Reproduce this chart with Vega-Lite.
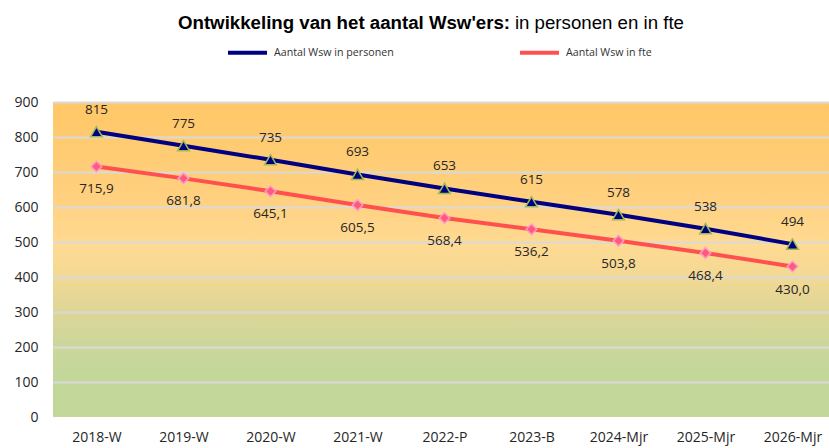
{
  "$schema": "https://vega.github.io/schema/vega-lite/v6.json",
  "width": 783,
  "height": 315,
  "autosize": {"type": "none"},
  "padding": {"left": 53, "top": 102, "right": 0, "bottom": 31},
  "background": "white",
  "title": {
    "text": "Ontwikkeling van het aantal Wsw'ers:",
    "subtitle": "\u200b\u00a0\u00a0\u00a0\u00a0\u00a0\u00a0\u00a0\u00a0\u00a0\u00a0\u00a0\u00a0\u00a0\u00a0\u00a0\u00a0\u00a0\u00a0\u00a0\u00a0\u00a0\u00a0\u00a0\u00a0\u00a0\u00a0\u00a0\u00a0\u00a0\u00a0\u00a0\u00a0\u00a0\u00a0\u00a0\u00a0\u00a0\u00a0\u00a0\u00a0\u00a0\u00a0\u00a0\u00a0\u00a0\u00a0\u00a0\u00a0\u00a0\u00a0\u00a0\u00a0\u00a0\u00a0\u00a0\u00a0\u00a0\u00a0\u00a0\u00a0\u00a0\u00a0\u00a0\u00a0\u00a0in personen en in fte",
    "anchor": "start",
    "frame": "group",
    "dx": 125,
    "offset": -2,
    "font": "Liberation Sans",
    "fontSize": 18.67,
    "fontWeight": "bold",
    "color": "#000000",
    "subtitleFont": "Liberation Sans",
    "subtitleFontSize": 18.67,
    "subtitleFontWeight": "normal",
    "subtitleColor": "#000000",
    "subtitlePadding": -18.67
  },
  "data": {
    "values": [
      {"periode": "2018-W", "reeks": "Aantal Wsw in personen", "waarde": 815},
      {"periode": "2019-W", "reeks": "Aantal Wsw in personen", "waarde": 775},
      {"periode": "2020-W", "reeks": "Aantal Wsw in personen", "waarde": 735},
      {"periode": "2021-W", "reeks": "Aantal Wsw in personen", "waarde": 693},
      {"periode": "2022-P", "reeks": "Aantal Wsw in personen", "waarde": 653},
      {"periode": "2023-B", "reeks": "Aantal Wsw in personen", "waarde": 615},
      {"periode": "2024-Mjr", "reeks": "Aantal Wsw in personen", "waarde": 578},
      {"periode": "2025-Mjr", "reeks": "Aantal Wsw in personen", "waarde": 538},
      {"periode": "2026-Mjr", "reeks": "Aantal Wsw in personen", "waarde": 494},
      {"periode": "2018-W", "reeks": "Aantal Wsw in fte", "waarde": 715.9},
      {"periode": "2019-W", "reeks": "Aantal Wsw in fte", "waarde": 681.8},
      {"periode": "2020-W", "reeks": "Aantal Wsw in fte", "waarde": 645.1},
      {"periode": "2021-W", "reeks": "Aantal Wsw in fte", "waarde": 605.5},
      {"periode": "2022-P", "reeks": "Aantal Wsw in fte", "waarde": 568.4},
      {"periode": "2023-B", "reeks": "Aantal Wsw in fte", "waarde": 536.2},
      {"periode": "2024-Mjr", "reeks": "Aantal Wsw in fte", "waarde": 503.8},
      {"periode": "2025-Mjr", "reeks": "Aantal Wsw in fte", "waarde": 468.4},
      {"periode": "2026-Mjr", "reeks": "Aantal Wsw in fte", "waarde": 430.0}
    ]
  },
  "encoding": {
    "x": {
      "field": "periode",
      "type": "ordinal",
      "sort": null,
      "title": null,
      "scale": {"padding": 0.5},
      "axis": {
        "labelAngle": 0,
        "domain": false,
        "ticks": false,
        "grid": false,
        "labelPadding": 13,
        "labelFont": "Open Sans",
        "labelFontSize": 14,
        "labelColor": "#262626"
      }
    },
    "y": {
      "field": "waarde",
      "type": "quantitative",
      "title": null,
      "scale": {"domain": [0, 900], "nice": false, "zero": true},
      "axis": {
        "values": [0, 100, 200, 300, 400, 500, 600, 700, 800, 900],
        "domain": false,
        "ticks": false,
        "labelPadding": 15,
        "labelFont": "Open Sans",
        "labelFontSize": 14,
        "labelColor": "#262626",
        "gridColor": "#D9D9D9",
        "gridWidth": 2,
        "gridOpacity": {"condition": {"test": "datum.value === 0", "value": 0}, "value": 1}
      }
    }
  },
  "layer": [
    {
      "mark": {"type": "line", "strokeWidth": 4},
      "encoding": {
        "color": {
          "field": "reeks",
          "type": "nominal",
          "scale": {
            "domain": ["Aantal Wsw in personen", "Aantal Wsw in fte"],
            "range": ["#000080", "#FF5050"]
          },
          "legend": {
            "orient": "none",
            "legendX": 173,
            "legendY": -71,
            "direction": "horizontal",
            "title": null,
            "symbolType": "stroke",
            "symbolSize": 1521,
            "symbolStrokeWidth": 4,
            "labelFont": "Open Sans",
            "labelFontSize": 10.67,
            "labelColor": "#333333",
            "labelOffset": 5,
            "columnPadding": 118,
            "labelLimit": 300
          }
        }
      }
    },
    {
      "transform": [{"filter": "datum.reeks === 'Aantal Wsw in personen'"}],
      "mark": {"type": "point", "shape": "triangle-up", "size": 140, "filled": true, "fill": "#000080", "stroke": "#9BBB59", "strokeWidth": 1.5, "opacity": 1}
    },
    {
      "transform": [{"filter": "datum.reeks === 'Aantal Wsw in fte'"}],
      "mark": {"type": "point", "shape": "diamond", "size": 110, "filled": true, "fill": "#FF5A78", "stroke": "#FF99CC", "strokeWidth": 1.5, "opacity": 1}
    },
    {
      "transform": [{"filter": "datum.reeks === 'Aantal Wsw in personen'"}],
      "mark": {"type": "text", "dy": -22, "font": "Open Sans", "fontSize": 13.5, "color": "#262626", "baseline": "middle"},
      "encoding": {
        "text": {"field": "waarde", "type": "quantitative", "format": "d"}
      }
    },
    {
      "transform": [{"filter": "datum.reeks === 'Aantal Wsw in fte'"}],
      "mark": {"type": "text", "dy": 23, "font": "Open Sans", "fontSize": 13.5, "color": "#262626", "baseline": "middle"},
      "encoding": {
        "text": {"field": "waarde", "type": "quantitative", "format": ".1f"}
      }
    }
  ],
  "config": {
    "locale": {"number": {"decimal": ",", "thousands": ".", "grouping": [3], "currency": ["€", ""]}},
    "view": {
      "stroke": null,
      "fill": {
        "gradient": "linear",
        "x1": 0, "y1": 0, "x2": 0, "y2": 1,
        "stops": [
          {"offset": 0, "color": "#FFC766"},
          {"offset": 0.3, "color": "#FFD07F"},
          {"offset": 0.45, "color": "#FFDA92"},
          {"offset": 0.55, "color": "#F3D994"},
          {"offset": 0.66, "color": "#DED697"},
          {"offset": 0.77, "color": "#CCD69A"},
          {"offset": 0.86, "color": "#C4D79B"},
          {"offset": 1, "color": "#C4D79B"}
        ]
      }
    }
  }
}
